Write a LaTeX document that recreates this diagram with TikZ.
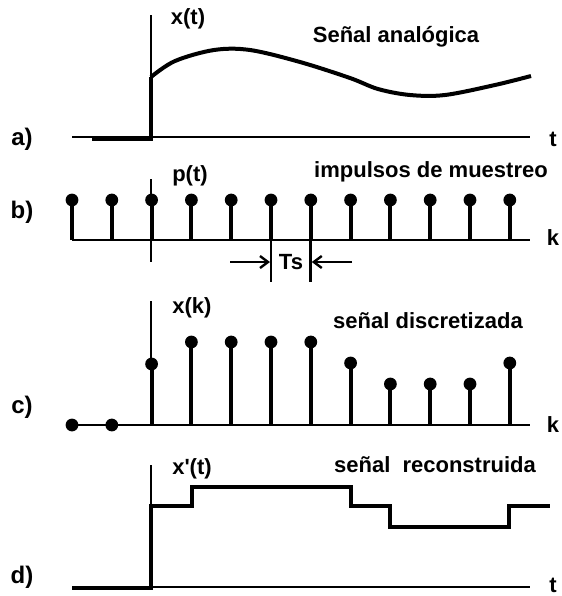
\documentclass[tikz,border=0pt]{standalone}
\usepackage{fontspec}
\setmainfont{Liberation Sans}
\usetikzlibrary{arrows.meta}
\begin{document}
\begin{tikzpicture}[x=0.5pt,y=-0.5pt,
  axis/.style={line width=1.4pt},
  sig/.style={line width=2pt},
  dotc/.style={fill=black},
  lbl/.style={font=\fontsize{11}{13}\selectfont\bfseries, inner sep=0pt, anchor=base},
  dimarrow/.style={line width=1.3pt,-{Straight Barb[length=4pt,width=6pt,line width=1.2pt]}}]
\useasboundingbox (0,0) rectangle (562,596);
% ---------- a) ----------
\draw[axis] (72,137) -- (530,137);
\draw[axis] (151,15) -- (151,137);
\draw[sig] (92,138.5) -- (151,138.5) -- (151,77);
\draw[sig] plot[smooth,tension=0.55] coordinates {(151,77) (175,61) (214,50) (250,50) (300,62) (350,78) (378,89) (410,95) (445,95) (495,85) (531,76)};
\node[lbl] (xt) at (188,24) {x(t)};
\node[lbl] (sa) at (396,42) {Señal analógica};
\node[lbl,font=\fontsize{12}{14}\selectfont\bfseries] (la) at (22,145) {a)};
\node[lbl] (ta) at (553,146) {t};
% ---------- b) ----------
\draw[axis] (72,240) -- (530,240);
\draw[axis] (151,179) -- (151,262);
\foreach \i in {0,...,11}{
  \draw[sig] ({72+39.8*\i},240) -- ({72+39.8*\i},200);
  \fill[dotc] ({72+39.8*\i},200) circle (3.2pt);
}
\draw[axis] (271,240) -- (271,282);
\draw[axis] (310.8,240) -- (310.8,282);
\coordinate (al) at (230,262);
\coordinate (ar) at (352,262);
\coordinate (ali) at (270,262);
\coordinate (ari) at (311.8,262);
\draw[dimarrow] (al) -- (ali);
\draw[dimarrow] (ar) -- (ari);
\node[lbl,anchor=center] (ts) at (291,262) {Ts};
\node[lbl] (pt) at (190,181) {p(t)};
\node[lbl] (im) at (431,177) {impulsos de muestreo};
\node[lbl,font=\fontsize{12}{14}\selectfont\bfseries] (lb) at (22,218) {b)};
\node[lbl] (kb) at (553,245) {k};
% ---------- c) ----------
\draw[axis] (72,425) -- (530,425);
\draw[axis] (151,301) -- (151,425);
\foreach \i/\v in {0/425,1/425,2/364,3/342,4/342,5/342,6/342,7/363,8/384,9/384,10/384,11/363}{
  \draw[sig] ({72+39.8*\i},425) -- ({72+39.8*\i},\v);
  \fill[dotc] ({72+39.8*\i},\v) circle (3.2pt);
}
\node[lbl] (xk) at (192,313) {x(k)};
\node[lbl] (sd) at (428,328) {señal discretizada};
\node[lbl,font=\fontsize{12}{14}\selectfont\bfseries] (lc) at (22,413) {c)};
\node[lbl] (kc) at (553,432) {k};
% ---------- d) ----------
\draw[axis] (72,587) -- (530,587);
\draw[axis] (151,465) -- (151,587);
\draw[sig] (72,588) -- (151,588) -- (151,506) -- (192,506) -- (192,487) -- (351,487) -- (351,506) -- (390,506) -- (390,527) -- (509,527) -- (509,506) -- (550,506);
\node[lbl] (xpt) at (192,474) {x\textquotesingle(t)};
\node[lbl] (sr) at (435,472) {señal\ \ reconstruida};
\node[lbl,font=\fontsize{12}{14}\selectfont\bfseries] (ld) at (22,583) {d)};
\node[lbl] (td) at (553,592) {t};
\end{tikzpicture}
\end{document}
